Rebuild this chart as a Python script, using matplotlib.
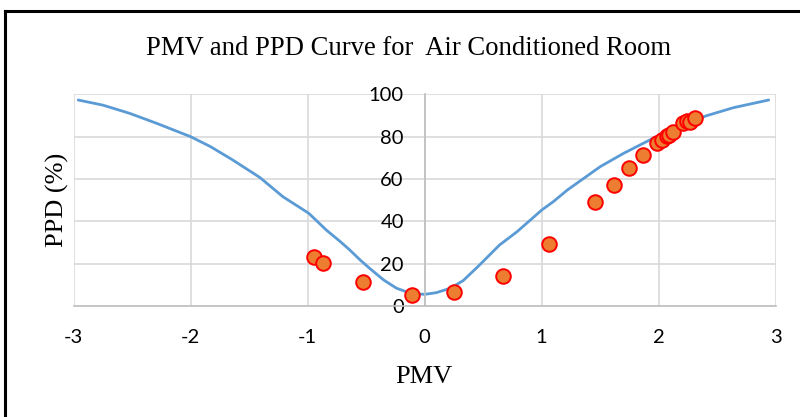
import matplotlib
matplotlib.use("Agg")
import matplotlib.pyplot as plt
from matplotlib.lines import Line2D

# Curve data (PMV vs PPD)
curve_pmv = [-2.96, -2.75, -2.52, -2.29, -2.0, -1.83, -1.64, -1.41, -1.21, -0.99,
             -0.84, -0.72, -0.64, -0.55, -0.47, -0.35, -0.24, -0.12, 0.0, 0.10,
             0.22, 0.33, 0.47, 0.64, 0.79, 0.92, 1.0, 1.1, 1.22, 1.36,
             1.5, 1.7, 1.98, 2.2, 2.41, 2.64, 2.94]
curve_ppd = [97.3, 94.9, 91.0, 86.3, 80.0, 75.3, 69.0, 60.8, 51.6, 43.8,
             35.9, 30.4, 26.5, 21.7, 17.8, 12.3, 8.4, 6.0, 5.5, 6.3,
             8.4, 12.0, 19.4, 28.8, 35.1, 41.4, 45.3, 49.3, 54.8, 60.3,
             65.8, 72.1, 80.0, 85.5, 89.9, 93.7, 97.3]

# Measured points
room_pmv = [-0.945, -0.866, -0.524, -0.11, 0.254, 0.667, 1.066, 1.455, 1.615, 1.75,
            1.866, 1.982, 2.03, 2.07, 2.09, 2.12, 2.21, 2.24, 2.27, 2.31]
room_ppd = [23.3, 20.2, 11.5, 5.2, 6.5, 14.3, 29.1, 49.3, 57.2, 65.0,
            71.3, 77.1, 78.4, 80.3, 81.0, 82.0, 86.3, 87.5, 87.0, 89.0]

x_ticks = [-3, -2, -1, 0, 1, 2, 3]
y_ticks = [0, 20, 40, 60, 80, 100]

title = "PMV and PPD Curve for  Air Conditioned Room"
xlabel = "PMV"
ylabel = "PPD (%)"

W, H = 800, 417
fig = plt.figure(figsize=(W / 100, H / 100), dpi=100)
ax = fig.add_axes([73.5 / W, 1 - 306 / H, (775.7 - 73.5) / W, (306 - 94.3) / H])

ax.set_xlim(-3, 3)
ax.set_ylim(0, 100)
ax.set_xticks(x_ticks)
ax.set_yticks(y_ticks)

grid_c = "#D9D9D9"
for xv in x_ticks:
    ax.axvline(xv, color=grid_c, lw=1.2, zorder=0)
for yv in y_ticks:
    ax.axhline(yv, color=grid_c, lw=1.2, zorder=0)

for s in ["top", "right"]:
    ax.spines[s].set_visible(False)
ax.spines["left"].set_position(("data", 0))
ax.spines["left"].set_color("#BFBFBF")
ax.spines["left"].set_linewidth(1.2)
ax.spines["bottom"].set_color("#BFBFBF")
ax.spines["bottom"].set_linewidth(1.2)

tick_font = dict(family=["Lato", "DejaVu Sans"], size=14.5)
ax.tick_params(axis="both", length=0)
ax.tick_params(axis="x", pad=16.5)
ax.tick_params(axis="y", pad=15)
ax.set_xticklabels([str(v) for v in x_ticks], **tick_font)
ax.set_yticklabels([str(v) for v in y_ticks], **tick_font)

ax.plot(curve_pmv, curve_ppd, color="#5B9BD5", lw=2.0, zorder=2, clip_on=False,
        solid_joinstyle="round", solid_capstyle="round")
ax.plot(room_pmv, room_ppd, linestyle="none", marker="o", markersize=10.5,
        markerfacecolor="#ED7D31", markeredgecolor="#FF0000", markeredgewidth=1.4,
        zorder=3, clip_on=False)

serif = ["Liberation Serif", "DejaVu Serif"]
fig.text(408.5 / W, 1 - 55 / H, title, ha="center", va="baseline",
         family=serif, size=19.2)
fig.text(423.5 / W, 1 - 383 / H, xlabel, ha="center", va="baseline",
         family=serif, size=19)
fig.text(57.5 / W, 1 - 200 / H, ylabel, ha="center", va="center", rotation=90,
         family=serif, size=19)

# Outer frame (top and left visible)
fig.add_artist(Line2D([5 / W, 1.0], [1 - 11 / H, 1 - 11 / H], color="black", lw=2.2,
                      transform=fig.transFigure))
fig.add_artist(Line2D([5 / W, 5 / W], [1 - 11 / H, 0], color="black", lw=2.2,
                      transform=fig.transFigure))

fig.savefig("out.png", dpi=100)
